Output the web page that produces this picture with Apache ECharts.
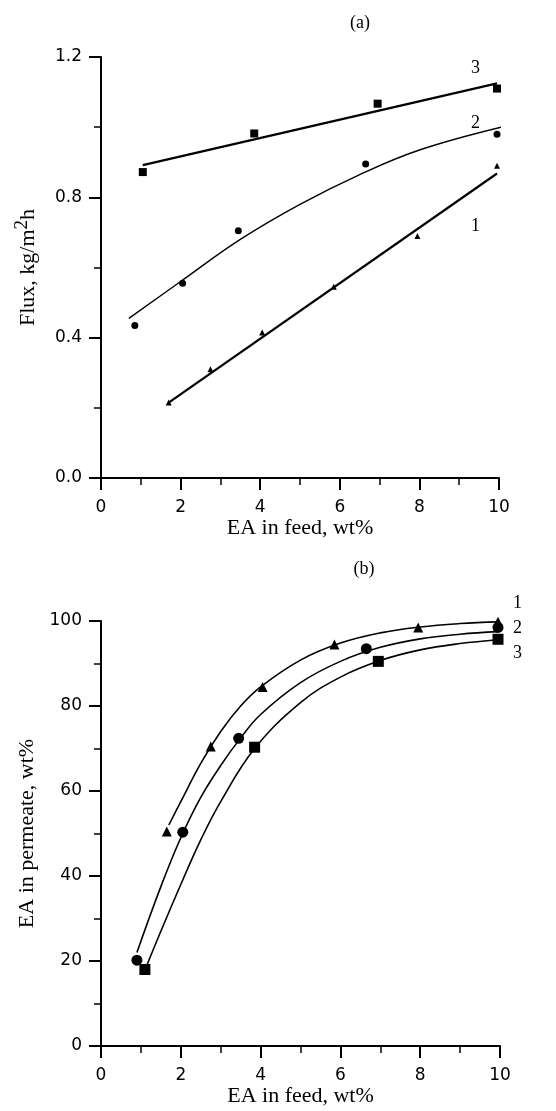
<!DOCTYPE html>
<html>
<head>
<meta charset="utf-8">
<script src="https://cdn.jsdelivr.net/npm/echarts@6/dist/echarts.min.js"></script>
<style>
  html, body { margin: 0; padding: 0; background: #fff; }
  #chart { width: 556px; height: 1111px; }
</style>
</head>
<body>
<div id="chart"></div>
<script>
// (a) flux vs EA in feed
const feedA1 = [1.7, 2.75, 4.05, 5.85, 7.95, 9.95];
const fluxA1 = [0.215, 0.31, 0.415, 0.545, 0.69, 0.89];
const feedA2 = [0.85, 2.05, 3.45, 6.65, 9.95];
const fluxA2 = [0.435, 0.555, 0.705, 0.895, 0.98];
const feedA3 = [1.05, 3.85, 6.95, 9.95];
const fluxA3 = [0.872, 0.982, 1.067, 1.11];

// fitted lines (a)
const fitFeedA1 = [1.7, 9.95];
const fitFluxA1 = [0.215, 0.868];
const fitFeedA2 = [0.7, 2, 3.5, 5, 6.5, 8, 10.05];
const fitFluxA2 = [0.455, 0.56, 0.68, 0.78, 0.865, 0.935, 1.0];
const fitFeedA3 = [1.05, 9.95];
const fitFluxA3 = [0.892, 1.125];

// (b) EA in permeate vs EA in feed
const feedB1 = [1.65, 2.75, 4.05, 5.85, 7.95, 9.95];
const permB1 = [50.5, 70.5, 84.5, 94.5, 98.5, 99.8];
const feedB2 = [0.9, 2.05, 3.45, 6.65, 9.95];
const permB2 = [20.2, 50.3, 72.4, 93.5, 98.5];
const feedB3 = [1.1, 3.85, 6.95, 9.95];
const permB3 = [18, 70.3, 90.5, 95.7];

// fitted curves (b)
const fitFeedB1 = [1.7, 2, 2.5, 3, 3.5, 4, 5, 6, 7, 8, 9, 9.95];
const fitPermB1 = [52, 57.5, 66.5, 74, 80, 84.5, 90.8, 94.8, 97.2, 98.6, 99.4, 99.8];
const fitFeedB2 = [0.9, 1.5, 2, 2.5, 3, 3.5, 4, 5, 6, 7, 8, 9, 9.95];
const fitPermB2 = [22, 37.5, 49, 58.5, 66, 72.5, 78, 85.5, 90.5, 93.8, 95.8, 96.9, 97.5];
const fitFeedB3 = [1.15, 1.5, 2, 2.5, 3, 3.85, 5, 6, 7, 8, 9, 9.95];
const fitPermB3 = [19, 27, 38, 48.5, 57.5, 70, 80.8, 86.8, 90.7, 93.2, 94.7, 95.6];

const curveNames = ['1', '2', '3'];

const zip = (xs, ys) => xs.map((x, i) => [x, ys[i]]);

const SANS = 'DejaVu Sans';
const SERIF = 'Liberation Serif';

const axisCommon = {
  axisLine: { show: true, onZero: false, lineStyle: { color: '#000', width: 2 } },
  axisTick: { show: true, inside: false, length: 12, lineStyle: { color: '#000', width: 2 } },
  minorTick: { show: true, splitNumber: 2, length: 7, lineStyle: { color: '#000', width: 1.5 } },
  splitLine: { show: false },
  axisLabel: { color: '#000', fontFamily: SANS, fontSize: 17 },
  nameTextStyle: { color: '#000', fontFamily: SERIF, fontSize: 22 },
  nameLocation: 'middle'
};

function xAxis(gridIndex) {
  return Object.assign({}, axisCommon, {
    type: 'value', gridIndex, min: 0, max: 10, interval: 2,
    name: 'EA in feed, wt%', nameGap: 37,
    axisLabel: Object.assign({}, axisCommon.axisLabel, { margin: 21 })
  });
}

function scatter(name, xi, data, symbol, size) {
  return {
    name, type: 'scatter', xAxisIndex: xi, yAxisIndex: xi,
    symbol, symbolSize: size, data,
    itemStyle: { color: '#000', opacity: 1 }, z: 3
  };
}

function fit(xi, data, width, label, offset) {
  return {
    type: 'line', xAxisIndex: xi, yAxisIndex: xi,
    data, smooth: data.length > 2 ? 0.4 : false, showSymbol: false,
    lineStyle: { color: '#000', width },
    endLabel: {
      show: true, formatter: label, offset,
      color: '#000', fontFamily: SERIF, fontSize: 18
    },
    z: 2
  };
}

const chart = echarts.init(document.getElementById('chart'));
chart.setOption({
  animation: false,
  backgroundColor: '#fff',
  graphic: [
    { type: 'text', x: 360, y: 23, style: { text: '(a)', font: '18px "Liberation Serif"', fill: '#000', align: 'center', verticalAlign: 'middle' } },
    { type: 'text', x: 364, y: 569, style: { text: '(b)', font: '18px "Liberation Serif"', fill: '#000', align: 'center', verticalAlign: 'middle' } }
  ],
  grid: [
    { left: 101, top: 57, width: 398, height: 421, containLabel: false, outerBoundsMode: 'none' },
    { left: 101, top: 621, width: 399, height: 425, containLabel: false, outerBoundsMode: 'none' }
  ],
  xAxis: [xAxis(0), xAxis(1)],
  yAxis: [
    Object.assign({}, axisCommon, {
      type: 'value', gridIndex: 0, min: 0, max: 1.2, interval: 0.4,
      name: 'Flux, kg/m{sup|2}h', nameGap: 58,
      nameTextStyle: Object.assign({}, axisCommon.nameTextStyle, {
        rich: { sup: { fontFamily: SERIF, fontSize: 19, color: '#000', padding: [0, 0, 11, 0] } }
      }),
      axisLabel: Object.assign({}, axisCommon.axisLabel, { margin: 19, formatter: v => v.toFixed(1) })
    }),
    Object.assign({}, axisCommon, {
      type: 'value', gridIndex: 1, min: 0, max: 100, interval: 20,
      name: 'EA in permeate, wt%', nameGap: 63,
      axisLabel: Object.assign({}, axisCommon.axisLabel, { margin: 19 })
    })
  ],
  series: [
    scatter('a1', 0, zip(feedA1, fluxA1), 'triangle', 6),
    scatter('a2', 0, zip(feedA2, fluxA2), 'circle', 7),
    scatter('a3', 0, zip(feedA3, fluxA3), 'rect', 8),
    fit(0, zip(fitFeedA1, fitFluxA1), 2.2, curveNames[0], [-34, 53]),
    fit(0, zip(fitFeedA2, fitFluxA2), 1.4, curveNames[1], [-38, -4]),
    fit(0, zip(fitFeedA3, fitFluxA3), 2.2, curveNames[2], [-34, -15]),
    scatter('b1', 1, zip(feedB1, permB1), 'triangle', 10),
    scatter('b2', 1, zip(feedB2, permB2), 'circle', 11),
    scatter('b3', 1, zip(feedB3, permB3), 'rect', 11),
    fit(1, zip(fitFeedB1, fitPermB1), 1.6, curveNames[0], [7, -19]),
    fit(1, zip(fitFeedB2, fitPermB2), 1.6, curveNames[1], [7, -3]),
    fit(1, zip(fitFeedB3, fitPermB3), 1.6, curveNames[2], [7, 14])
  ]
});
</script>
</body>
</html>
